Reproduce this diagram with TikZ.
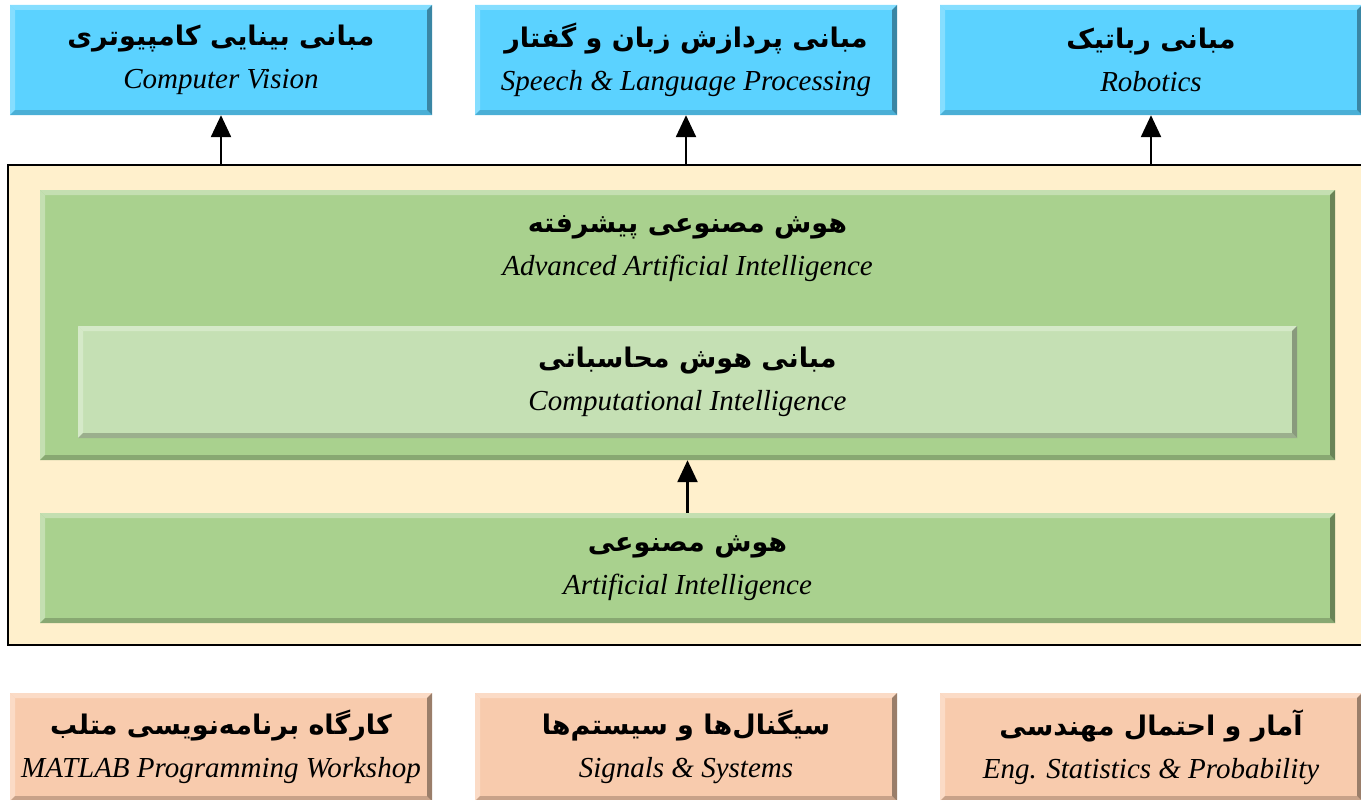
\documentclass[tikz,border=0pt]{standalone}
\usepackage{fontspec}
\setmainfont{Liberation Serif}
\newfontfamily\farsi[Script=Arabic]{DejaVu Sans}
\TeXXeTstate=1
\usetikzlibrary{arrows.meta}

\definecolor{skyfill}{HTML}{5BD2FF}
\definecolor{skytop}{HTML}{85DEFF}
\definecolor{skybot}{HTML}{4AAFD6}
\definecolor{skyside}{HTML}{3A86A4}
\definecolor{greenfill}{HTML}{A9D18E}
\definecolor{greentop}{HTML}{C4DFB1}
\definecolor{greenbot}{HTML}{88A872}
\definecolor{greenside}{HTML}{6A8457}
\definecolor{palefill}{HTML}{C5E0B4}
\definecolor{paletop}{HTML}{D5E9C8}
\definecolor{palebot}{HTML}{9BAF8D}
\definecolor{paleside}{HTML}{899A7D}
\definecolor{peachfill}{HTML}{F8CBAD}
\definecolor{peachtop}{HTML}{FBDBC6}
\definecolor{peachbot}{HTML}{C8A289}
\definecolor{peachside}{HTML}{9A7E6A}
\definecolor{framefill}{HTML}{FFF0CC}

\newcommand{\fa}[1]{{\farsi\bfseries\fontsize{27}{43}\selectfont\beginR #1\endR}}
\newcommand{\en}[1]{{\itshape #1}}

\tikzset{
  bevel/.style n args={5}{fill=#1, inner sep=0pt, align=center,
    font=\fontsize{29}{43}\selectfont,
    path picture={
      \def\bb{path picture bounding box}
      \fill[#2] (\bb.north west) -- (\bb.north east) -- ([shift={(-5pt,-5pt)}]\bb.north east) -- ([shift={(5pt,-5pt)}]\bb.north west) -- cycle;
      \fill[#2] (\bb.north west) -- (\bb.south west) -- ([shift={(5pt,5pt)}]\bb.south west) -- ([shift={(5pt,-5pt)}]\bb.north west) -- cycle;
      \fill[#3] (\bb.south west) -- (\bb.south east) -- ([shift={(-5pt,5pt)}]\bb.south east) -- ([shift={(5pt,5pt)}]\bb.south west) -- cycle;
      \fill[#4] (\bb.north east) -- (\bb.south east) -- ([shift={(-5pt,5pt)}]\bb.south east) -- ([shift={(-5pt,-5pt)}]\bb.north east) -- cycle;
    }},
  skybox/.style={bevel={skyfill}{skytop}{skybot}{skyside}{}, minimum width=422pt, minimum height=110pt},
  greenbox/.style={bevel={greenfill}{greentop}{greenbot}{greenside}{}, minimum width=1295pt},
  palebox/.style={bevel={palefill}{paletop}{palebot}{paleside}{}, minimum width=1219pt, minimum height=112pt},
  peachbox/.style={bevel={peachfill}{peachtop}{peachbot}{peachside}{}, minimum width=422pt, minimum height=108pt},
  uparrow/.style={line width=2.4pt, -{Triangle[width=20pt,length=22pt]}}
}

\begin{document}
\begin{tikzpicture}[x=1pt,y=-1pt]
  \useasboundingbox (0,0) rectangle (1361,800);
  \clip (0,0) rectangle (1361,800);

  % upper courses
  \node[skybox] (vision) at (221,60) {\fa{مبانی بینایی کامپیوتری}\\\en{Computer Vision}};
  \node[skybox] (speech) at (686,60) {\fa{مبانی پردازش زبان و گفتار}\\\en{Speech \& Language Processing}};
  \node[skybox] (robot) at (1151,60) {\fa{مبانی رباتیک}\\\en{Robotics}};

  % AI block
  \node[draw=black, line width=2.4pt, fill=framefill, minimum width=1367pt, minimum height=480pt] (frame) at (691.5,405) {};
  \node[greenbox, minimum height=270pt] (adv) at (687.5,325) {};
  \node[align=center, font=\fontsize{29}{43}\selectfont, inner sep=0pt] (advtext) at (687.5,249) {\fa{هوش مصنوعی پیشرفته}\\\en{Advanced Artificial Intelligence}};
  \node[palebox] (comp) at (687.5,382) {\fa{مبانی هوش محاسباتی}\\\en{Computational Intelligence}};
  \node[greenbox, minimum height=110pt] (ai) at (687.5,568) {\fa{هوش مصنوعی}\\\en{Artificial Intelligence}};

  % prerequisites
  \node[peachbox] (matlab) at (221,747) {\fa{کارگاه برنامه^^^^200cنویسی متلب}\\\en{MATLAB Programming Workshop}};
  \node[peachbox] (signal) at (686,747) {\fa{سیگنال^^^^200cها و سیستم^^^^200cها}\\\en{Signals \& Systems}};
  \node[peachbox] (stat) at (1151,747) {\fa{آمار و احتمال مهندسی}\\\en{Eng. Statistics \& Probability}};

  \draw[uparrow] (vision.south |- frame.north) -- (vision.south);
  \draw[uparrow] (speech.south |- frame.north) -- (speech.south);
  \draw[uparrow] (robot.south |- frame.north) -- (robot.south);
  \draw[uparrow] (ai.north) -- (adv.south);
\end{tikzpicture}
\end{document}
